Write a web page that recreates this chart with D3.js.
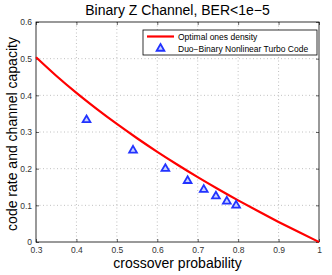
<!DOCTYPE html>
<html lang="en">
  <head>
    <meta charset="UTF-8" />
    <title>Binary Z Channel</title>
    <script src="https://d3js.org/d3.v7.min.js"></script>
    <style>
      body { margin: 0; background: #fff; }
      text { font-family: "Liberation Sans", Arial, sans-serif; }
    </style>
  </head>
  <body>
    <script>
      // capacity curve
      var capP = [0.3, 0.35, 0.4, 0.45, 0.5, 0.55, 0.6, 0.65, 0.7, 0.75, 0.8, 0.85, 0.9, 0.95, 1.0];
      var capC = [0.504, 0.4535, 0.4067, 0.3631, 0.3219, 0.283, 0.246, 0.2108, 0.177, 0.1447, 0.1136, 0.0837, 0.0548, 0.027, 0];
      // turbo code points
      var codeP = [0.425, 0.54, 0.62, 0.675, 0.715, 0.745, 0.772, 0.795];
      var codeR = [0.333, 0.25, 0.2, 0.167, 0.143, 0.125, 0.111, 0.1];
      var xTicks = [0.3, 0.4, 0.5, 0.6, 0.7, 0.8, 0.9, 1];
      var yTicks = [0, 0.1, 0.2, 0.3, 0.4, 0.5, 0.6];

      var W = 332, H = 275;
      var margin = { top: 22, right: 13, bottom: 33, left: 36 },
        width = W - margin.left - margin.right,
        height = H - margin.top - margin.bottom;

      var svg = d3.select("body").append("svg").attr("width", W).attr("height", H);
      var g = svg.append("g").attr("transform", "translate(" + margin.left + "," + margin.top + ")");

      var x = d3.scaleLinear().domain([0.3, 1]).range([0, width]);
      var y = d3.scaleLinear().domain([0, 0.6]).range([height, 0]);

      // grid
      g.append("g").selectAll("line").data(xTicks.slice(1, -1)).enter().append("line")
        .attr("x1", d => x(d)).attr("x2", d => x(d)).attr("y1", 0).attr("y2", height)
        .attr("stroke", "#b0b0b0").attr("stroke-width", 0.8).attr("stroke-dasharray", "1,2.5");
      g.append("g").selectAll("line").data(yTicks.slice(1, -1)).enter().append("line")
        .attr("y1", d => y(d)).attr("y2", d => y(d)).attr("x1", 0).attr("x2", width)
        .attr("stroke", "#b0b0b0").attr("stroke-width", 0.8).attr("stroke-dasharray", "1,2.5");

      // axes with inward ticks
      function styleAxis(sel) {
        sel.select(".domain").remove();
        sel.selectAll("line").attr("stroke", "#000").attr("stroke-width", 0.6);
        sel.selectAll("text").style("font-size", "8.5px").attr("fill", "#333");
      }
      g.append("g").attr("transform", "translate(0," + height + ")")
        .call(d3.axisBottom(x).tickValues(xTicks).tickSize(-3).tickPadding(5).tickFormat(d3.format("")))
        .call(styleAxis);
      g.append("g")
        .call(d3.axisTop(x).tickValues(xTicks).tickSize(-3).tickFormat(""))
        .call(styleAxis);
      g.append("g")
        .call(d3.axisLeft(y).tickValues(yTicks).tickSize(-3).tickPadding(4).tickFormat(d3.format("")))
        .call(styleAxis);
      g.append("g").attr("transform", "translate(" + width + ",0)")
        .call(d3.axisRight(y).tickValues(yTicks).tickSize(-3).tickFormat(""))
        .call(styleAxis);

      g.append("rect").attr("width", width).attr("height", height)
        .attr("fill", "none").attr("stroke", "#000").attr("stroke-width", 0.8);

      // capacity curve
      var capData = capP.map((p, i) => [p, capC[i]]);
      g.append("path").datum(capData)
        .attr("d", d3.line().x(d => x(d[0])).y(d => y(d[1])).curve(d3.curveMonotoneX))
        .attr("fill", "none").attr("stroke", "#ff0000").attr("stroke-width", 2.2);

      // markers
      var tri = d3.symbol().type(d3.symbolTriangle).size(26);
      g.append("g").selectAll("path").data(codeP).enter().append("path")
        .attr("d", tri)
        .attr("transform", (d, i) => "translate(" + x(d) + "," + y(codeR[i]) + ")")
        .attr("fill", "#c8d2ff").attr("stroke", "#2233ff").attr("stroke-width", 1.8);

      // legend
      var lg = g.append("g").attr("transform", "translate(" + (143 - margin.left) + "," + (30 - margin.top) + ")");
      lg.append("rect").attr("width", 174).attr("height", 25)
        .attr("fill", "#fff").attr("stroke", "#000").attr("stroke-width", 0.8);
      lg.append("line").attr("x1", 4).attr("x2", 31).attr("y1", 6.5).attr("y2", 6.5)
        .attr("stroke", "#ff0000").attr("stroke-width", 2.2);
      lg.append("path").attr("d", tri).attr("transform", "translate(17.5,18.5)")
        .attr("fill", "#c8d2ff").attr("stroke", "#2233ff").attr("stroke-width", 1.8);
      lg.append("text").attr("x", 35).attr("y", 9.5).style("font-size", "8.5px").text("Optimal ones density");
      lg.append("text").attr("x", 35).attr("y", 21.5).style("font-size", "8.5px").text("Duo\u2212Binary Nonlinear Turbo Code");

      // title and labels
      svg.append("text").attr("x", margin.left + width / 2).attr("y", 15)
        .attr("text-anchor", "middle").style("font-size", "14px").text("Binary Z Channel, BER<1e\u22125");
      svg.append("text").attr("x", margin.left + width / 2).attr("y", 268)
        .attr("text-anchor", "middle").style("font-size", "14px").text("crossover probability");
      svg.append("text").attr("transform", "translate(16.5,134) rotate(-90)")
        .attr("text-anchor", "middle").style("font-size", "14px").text("code rate and channel capacity");
    </script>
  </body>
</html>
